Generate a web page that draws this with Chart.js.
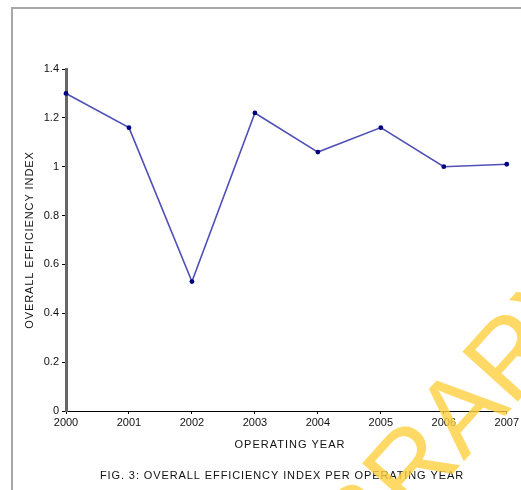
<!DOCTYPE html>
<html>
<head>
<meta charset="utf-8">
<script src="https://cdn.jsdelivr.net/npm/chart.js@4.4.1/dist/chart.umd.min.js"></script>
<style>
  html, body { margin: 0; padding: 0; background: #fff; }
  #wrap { width: 521px; height: 490px; position: relative; }
</style>
</head>
<body>
<div id="wrap"><canvas id="c" width="521" height="490"></canvas></div>
<script>
// Operating years and the overall efficiency index for each
const years = ['2000', '2001', '2002', '2003', '2004', '2005', '2006', '2007'];
const efficiencyIndex = [1.30, 1.16, 0.53, 1.22, 1.06, 1.16, 1.00, 1.01];
const yTicks = [0, 0.2, 0.4, 0.6, 0.8, 1, 1.2, 1.4];

const yTitle = 'OVERALL EFFICIENCY INDEX';
const xTitle = 'OPERATING YEAR';
const caption = 'FIG. 3: OVERALL EFFICIENCY INDEX PER OPERATING YEAR';
const watermark = 'LIBRARY';

const FONT = '"Liberation Sans", Arial, sans-serif';

// Frame, axis titles, caption and the library stamp
const decorations = {
  id: 'decorations',
  beforeDraw(chart) {
    const ctx = chart.ctx;
    ctx.save();
    ctx.fillStyle = '#fff';
    ctx.fillRect(0, 0, chart.width, chart.height);
    ctx.strokeStyle = '#a8a8a8';
    ctx.lineWidth = 2;
    ctx.beginPath();
    ctx.moveTo(12, 490);
    ctx.lineTo(12, 8);
    ctx.lineTo(521, 8);
    ctx.stroke();
    ctx.restore();
  },
  afterDraw(chart) {
    const ctx = chart.ctx;
    const area = chart.chartArea;
    ctx.save();
    ctx.fillStyle = '#111';
    ctx.font = '11px ' + FONT;
    ctx.textAlign = 'center';
    ctx.textBaseline = 'middle';
    ctx.letterSpacing = '1px';
    ctx.fillText(xTitle, 290, 445);
    ctx.letterSpacing = '0.9px';
    ctx.fillText(caption, 282, 476);
    ctx.save();
    ctx.translate(30, (area.top + area.bottom) / 2);
    ctx.rotate(-Math.PI / 2);
    ctx.letterSpacing = '0.9px';
    ctx.fillText(yTitle, 0, 0);
    ctx.restore();

    // diagonal library stamp
    ctx.letterSpacing = '0px';
    ctx.font = '108px ' + FONT;
    ctx.textAlign = 'left';
    ctx.textBaseline = 'alphabetic';
    ctx.fillStyle = 'rgba(255, 208, 64, 0.8)';
    ctx.translate(303, 640);
    ctx.rotate(-48 * Math.PI / 180);
    ctx.fillText(watermark, 0, 0);
    ctx.restore();
  }
};

new Chart(document.getElementById('c'), {
  type: 'line',
  data: {
    labels: years,
    datasets: [{
      data: efficiencyIndex,
      borderColor: '#5050b8',
      borderWidth: 1.6,
      pointRadius: 2.4,
      pointBackgroundColor: '#000080',
      pointBorderColor: '#000080',
      pointBorderWidth: 0,
      tension: 0
    }]
  },
  plugins: [decorations],
  options: {
    responsive: false,
    animation: false,
    events: [],
    layout: { padding: { left: 0, top: 69, right: 10, bottom: 0 } },
    plugins: { legend: { display: false }, tooltip: { enabled: false } },
    scales: {
      x: {
        type: 'category',
        offset: false,
        afterFit(scale) { scale.height = 79; },
        border: { display: true, color: '#000', width: 1 },
        grid: { display: true, drawOnChartArea: false, drawTicks: true, tickLength: 3, color: '#000' },
        ticks: {
          color: '#111',
          font: { family: FONT, size: 11 },
          padding: 2,
          maxRotation: 0,
          autoSkip: false
        }
      },
      y: {
        min: 0,
        max: 1.4,
        afterFit(scale) { scale.width = 66; },
        afterBuildTicks(scale) { scale.ticks = yTicks.map(v => ({ value: v })); },
        border: { display: true, color: '#666', width: 3 },
        grid: { display: true, drawOnChartArea: false, drawTicks: true, tickLength: 4, color: '#000' },
        ticks: {
          color: '#111',
          font: { family: FONT, size: 11 },
          padding: 3,
          callback: v => String(Math.round(v * 10) / 10)
        }
      }
    }
  }
});
</script>
</body>
</html>
